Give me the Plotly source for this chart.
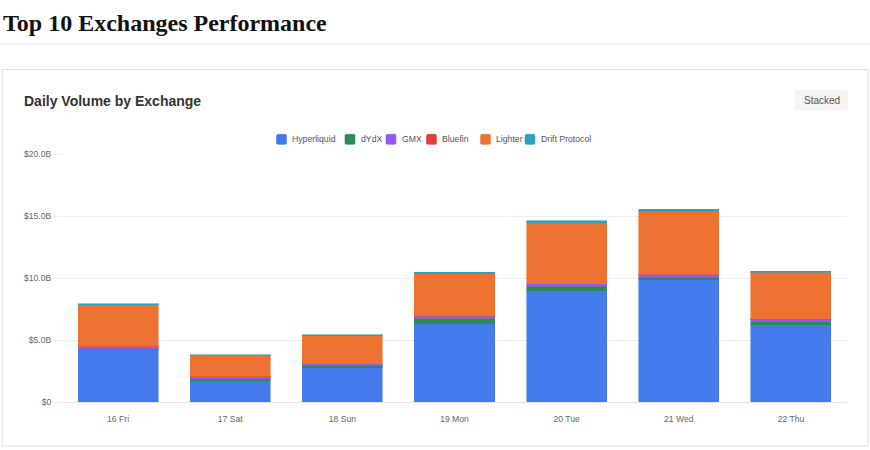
import plotly.graph_objects as go

# ---------------- data (billions USD) ----------------
days = ["16 Fri", "17 Sat", "18 Sun", "19 Mon", "20 Tue", "21 Wed", "22 Thu"]
hyperliquid = [4.25, 1.70, 2.75, 6.35, 8.98, 9.84, 6.24]
dydx = [0.06, 0.18, 0.20, 0.40, 0.35, 0.24, 0.24]
gmx = [0.15, 0.16, 0.14, 0.18, 0.19, 0.21, 0.21]
bluefin = [0.02, 0.02, 0.01, 0.03, 0.03, 0.03, 0.02]
lighter = [3.35, 1.72, 2.26, 3.39, 4.92, 5.05, 3.74]
drift = [0.10, 0.05, 0.08, 0.10, 0.13, 0.16, 0.11]

exchange_names = ["Hyperliquid", "dYdX", "GMX", "Bluefin", "Lighter", "Drift Protocol"]
series = [hyperliquid, dydx, gmx, bluefin, lighter, drift]

y_tick_vals = [0, 5, 10, 15, 20]
y_tick_text = ["$0", "$5.0B", "$10.0B", "$15.0B", "$20.0B"]

# ---------------- styles ----------------
rgb = [(67, 123, 236), (46, 139, 87), (147, 92, 240),
       (229, 62, 62), (237, 114, 50), (43, 163, 184)]

W, H = 870, 460


def px(x):
    return x / W


def py(y):
    return (H - y) / H


def rounded_rect(x0, y0, x1, y1, r):
    pts = [
        ("M", [(x0 + r, y0)]), ("L", [(x1 - r, y0)]), ("Q", [(x1, y0), (x1, y0 + r)]),
        ("L", [(x1, y1 - r)]), ("Q", [(x1, y1), (x1 - r, y1)]),
        ("L", [(x0 + r, y1)]), ("Q", [(x0, y1), (x0, y1 - r)]),
        ("L", [(x0, y0 + r)]), ("Q", [(x0, y0), (x0 + r, y0)]),
    ]
    s = ""
    for cmd, coords in pts:
        s += cmd + " " + " ".join(f"{px(a):.5f},{py(b):.5f}" for a, b in coords) + " "
    return s + "Z"


fig = go.Figure()
for name, vals, c in zip(exchange_names, series, rgb):
    fig.add_trace(go.Bar(
        x=days, y=vals, name=name, showlegend=False,
        marker=dict(color=f"rgb{c}",
                    line=dict(color=f"rgba({c[0]},{c[1]},{c[2]},0.55)", width=1)),
        hovertemplate="%{x}<br>" + name + ": $%{y:.2f}B<extra></extra>",
    ))

shapes = []
annotations = []

# page title + divider
annotations.append(dict(text="<b>Top 10 Exchanges Performance</b>", x=px(1), y=py(23),
                        xref="paper", yref="paper", xanchor="left", yanchor="middle",
                        showarrow=False,
                        font=dict(family="Liberation Serif", size=24, color="#111111")))
shapes.append(dict(type="line", xref="paper", yref="paper", x0=0, x1=1, y0=py(44), y1=py(44),
                   line=dict(color="#e2e2e2", width=1)))

# card
shapes.append(dict(type="rect", xref="paper", yref="paper", x0=px(2), x1=px(868),
                   y0=py(446), y1=py(69.5), line=dict(color="#dddddd", width=1),
                   fillcolor="rgba(0,0,0,0)", layer="below"))
annotations.append(dict(text="<b>Daily Volume by Exchange</b>", x=px(21.5), y=py(100.5),
                        xref="paper", yref="paper", xanchor="left", yanchor="middle",
                        showarrow=False,
                        font=dict(family="Liberation Sans", size=14, color="#333333")))

# "Stacked" button
shapes.append(dict(type="path", xref="paper", yref="paper",
                   path=rounded_rect(795, 90, 848, 110.5, 3),
                   fillcolor="#f5f5f5", line=dict(width=0), layer="below"))
annotations.append(dict(text="Stacked", x=px(821.5), y=py(100.5), xref="paper", yref="paper",
                        xanchor="center", yanchor="middle", showarrow=False,
                        font=dict(family="Liberation Sans", size=10, color="#555555")))

# legend (manual, compact)
legend_x = [276.5, 345, 386, 426.5, 480.5, 525]
for name, c, lx in zip(exchange_names, rgb, legend_x):
    shapes.append(dict(type="path", xref="paper", yref="paper",
                       path=rounded_rect(lx, 134.3, lx + 10, 144.3, 1.5),
                       fillcolor=f"rgb{c}",
                       line=dict(color=f"rgba({c[0]},{c[1]},{c[2]},0.6)", width=1)))
    annotations.append(dict(text=name, x=px(lx + 13.5), y=py(139.3), xref="paper", yref="paper",
                            xanchor="left", yanchor="middle", showarrow=False,
                            font=dict(family="Liberation Sans", size=8.7, color="#555555")))

fig.update_layout(
    width=W, height=H,
    margin=dict(l=0, r=0, t=0, b=0),
    paper_bgcolor="white", plot_bgcolor="white",
    barmode="stack", bargap=0.2857,
    shapes=shapes, annotations=annotations,
    showlegend=False,
    xaxis=dict(domain=[px(62), px(847)], showgrid=False, zeroline=False,
               showline=True, linecolor="#e6e6e6", linewidth=1,
               ticks="outside", ticklen=9, tickcolor="rgba(0,0,0,0)",
               tickfont=dict(family="Liberation Sans", size=8.6, color="#666666"),
               fixedrange=True, automargin=False),
    yaxis=dict(domain=[py(402), py(154)], range=[0, 20],
               tickvals=y_tick_vals, ticktext=y_tick_text,
               showgrid=True, gridcolor="#eeeeee", gridwidth=1, zeroline=False,
               ticks="outside", ticklen=8, tickcolor="#eeeeee", tickwidth=1,
               tickfont=dict(family="Liberation Sans", size=8.6, color="#666666"),
               fixedrange=True, automargin=False),
    font=dict(family="Liberation Sans"),
)

fig.write_html(
    "out.html",
    config={"displayModeBar": False},
    post_script=(
        "var d=document.getElementById('{plot_id}');"
        "d.style.position='fixed';d.style.top='0px';d.style.left='0px';"
        "document.body.style.margin='0';document.body.style.overflow='hidden';"
        "document.documentElement.style.overflow='hidden';"
    ),
)
